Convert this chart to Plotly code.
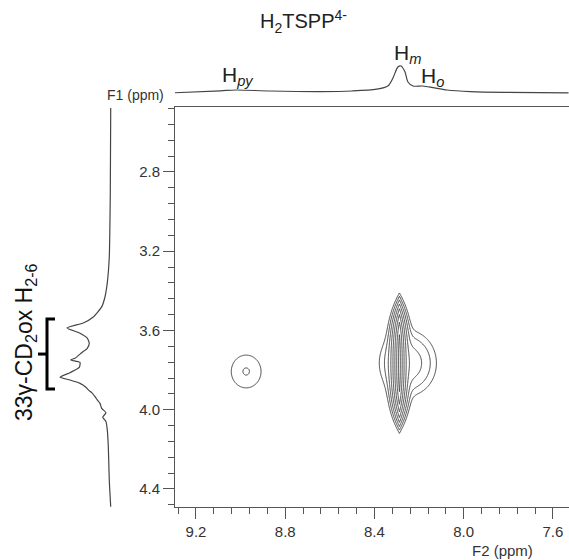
import numpy as np
import plotly.graph_objects as go

W, H = 569, 560

# ---- 1D projection along F2 (top trace) ----
TOP_F2 = [9.30, 9.09, 9.02, 8.87, 8.64, 8.50, 8.39, 8.34, 8.317, 8.295, 8.281,
          8.263, 8.25, 8.227, 8.183, 8.138, 8.075, 7.97, 7.82, 7.53]
TOP_INT = [0.18, 0.23, 0.25, 0.225, 0.21, 0.225, 0.27, 0.35, 0.55, 0.825, 0.85,
           0.70, 0.45, 0.35, 0.35, 0.31, 0.25, 0.21, 0.19, 0.18]

# ---- 1D projection along F1 (left trace) ----
LEFT_F1 = [2.477, 2.891, 3.229, 3.360, 3.431, 3.481, 3.532, 3.562, 3.587, 3.614,
           3.639, 3.665, 3.690, 3.712, 3.740, 3.749, 3.761, 3.786, 3.813, 3.836,
           3.850, 3.867, 3.885, 3.900, 3.915, 3.934, 3.950, 3.968, 3.993, 4.015,
           4.038, 4.060, 4.102, 4.187, 4.355, 4.490]
LEFT_INT = [0.116, 0.121, 0.134, 0.159, 0.188, 0.229, 0.334, 0.459, 0.662, 0.500,
            0.409, 0.384, 0.409, 0.479, 0.562, 0.616, 0.500, 0.509, 0.625, 0.750,
            0.625, 0.500, 0.430, 0.396, 0.350, 0.3125, 0.285, 0.250, 0.229, 0.175,
            0.216, 0.175, 0.159, 0.146, 0.134, 0.116]

# ---- 2D cross peaks: centre (F2, F1), widths, log-amplitude ----
PEAK_NAME = ["Hm", "Ho", "Hpy"]
PEAK_F2 = [8.288, 8.250, 8.975]
PEAK_F1 = [3.765, 3.765, 3.807]
PEAK_W2 = [0.008, 0.056, 0.046]
PEAK_W1 = [0.181, 0.072, 0.057]
PEAK_LOGAMP = [7.5, 2.6, 1.05]

# axis ranges (ppm)
F2_RANGE = [9.294, 7.528]
F1_RANGE = [4.491, 2.472]

# bracket over the CD signals in F1
BRACKET_F1 = [3.542, 3.719, 3.895]

# ---- build the 2D map ----
f2 = np.arange(7.95, 9.15, 0.002)
f1 = np.arange(3.30, 4.25, 0.004)
X, Y = np.meshgrid(f2, f1)
total = np.zeros_like(X)
# Hm: sharp in F2 (exponential), flat-topped in F1
total += np.exp(PEAK_LOGAMP[0] - np.abs(X - PEAK_F2[0]) / PEAK_W2[0]
                - np.abs((Y - PEAK_F1[0]) / PEAK_W1[0]) ** 3)
# Ho and Hpy: gaussian
for i in (1, 2):
    total += np.exp(PEAK_LOGAMP[i]
                    - 0.5 * ((X - PEAK_F2[i]) / PEAK_W2[i]) ** 2
                    - 0.5 * ((Y - PEAK_F1[i]) / PEAK_W1[i]) ** 2)
Z = np.round(np.log(total + 1e-3), 3)

line_col = "#444444"
axis_col = "#555555"
font_fam = "Arial, Liberation Sans, sans-serif"

fig = go.Figure()

fig.add_trace(go.Contour(
    x=f2, y=f1, z=Z, xaxis="x", yaxis="y",
    contours=dict(start=0, end=7, size=1, coloring="lines"),
    colorscale=[[0, line_col], [1, line_col]],
    line=dict(width=1), showscale=False, hoverinfo="skip",
))

fig.add_trace(go.Scatter(
    x=TOP_F2, y=TOP_INT, xaxis="x2", yaxis="y2", mode="lines",
    line=dict(color=line_col, width=1.2, shape="spline", smoothing=0.8),
    hoverinfo="skip", showlegend=False,
))

fig.add_trace(go.Scatter(
    x=LEFT_INT, y=LEFT_F1, xaxis="x3", yaxis="y3", mode="lines",
    line=dict(color=line_col, width=1.2, shape="spline", smoothing=0.5),
    hoverinfo="skip", showlegend=False,
))

main_xdom = [175 / W, 1.0]
main_ydom = [1 - 507 / H, 1 - 107 / H]

tickfont = dict(family=font_fam, size=15, color="#333333")

fig.update_layout(
    width=W, height=H,
    margin=dict(l=0, r=0, t=0, b=0),
    paper_bgcolor="white", plot_bgcolor="white",
    showlegend=False,
    xaxis=dict(
        domain=main_xdom, range=F2_RANGE, anchor="y",
        showgrid=False, zeroline=False,
        showline=True, linecolor=axis_col, linewidth=1, mirror=True,
        ticks="outside", ticklen=11, tickwidth=1, tickcolor=axis_col,
        tick0=7.6, dtick=0.4, tickformat=".1f", tickfont=tickfont,
        minor=dict(ticks="outside", ticklen=6, tickwidth=1, tickcolor=axis_col,
                   tick0=7.6, dtick=0.08, showgrid=False),
    ),
    yaxis=dict(
        domain=main_ydom, range=F1_RANGE, anchor="x",
        showgrid=False, zeroline=False,
        showline=True, linecolor=axis_col, linewidth=1,
        ticks="outside", ticklen=11, tickwidth=1, tickcolor=axis_col,
        tick0=2.8, dtick=0.4, tickformat=".1f", tickfont=tickfont,
        minor=dict(ticks="outside", ticklen=6, tickwidth=1, tickcolor=axis_col,
                   tick0=2.8, dtick=0.08, showgrid=False),
    ),
    xaxis2=dict(domain=main_xdom, range=F2_RANGE, anchor="y2", visible=False),
    yaxis2=dict(domain=[1 - 100 / H, 1 - 60 / H], range=[0, 1], anchor="x2",
                visible=False),
    xaxis3=dict(domain=[40 / W, 120 / W], range=[1, 0], anchor="y3",
                visible=False),
    yaxis3=dict(domain=main_ydom, range=F1_RANGE, anchor="x3", visible=False),
)

ann = [
    dict(text="H<sub>2</sub>TSPP<sup>4-</sup>", xref="paper", yref="paper",
         x=303 / W, y=1 - 22 / H, font=dict(size=20, color="#222222")),
    dict(text="H<sub><i>py</i></sub>", xref="x", yref="paper",
         x=9.012, y=1 - 76 / H, font=dict(size=21, color="#222222")),
    dict(text="H<sub><i>m</i></sub>", xref="x", yref="paper",
         x=8.254, y=1 - 54 / H, font=dict(size=21, color="#222222")),
    dict(text="H<sub><i>o</i></sub>", xref="x", yref="paper",
         x=8.138, y=1 - 77 / H, font=dict(size=21, color="#222222")),
    dict(text="F1 (ppm)", xref="paper", yref="paper", xanchor="right",
         x=166 / W, y=1 - 95 / H, font=dict(size=14, color="#333333")),
    dict(text="F2 (ppm)", xref="paper", yref="paper",
         x=503 / W, y=1 - 550 / H, font=dict(size=15, color="#333333")),
    dict(text="33γ-CD<sub>2</sub>ox H<sub>2-6</sub>", xref="paper", yref="paper",
         x=25 / W, y=1 - 342 / H, textangle=-90,
         font=dict(size=23, color="#111111")),
]
for a in ann:
    a.setdefault("showarrow", False)
    a.setdefault("xanchor", "center")
    a.setdefault("yanchor", "middle")
    a["font"]["family"] = font_fam
fig.update_layout(annotations=ann)

# bracket marking the CD signals
bx0, bx1, bxt = 47 / W, 55 / W, 38 / W
fig.add_shape(type="path", xref="paper", yref="y",
              path=f"M {bx1},{BRACKET_F1[0]} L {bx0},{BRACKET_F1[0]} "
                   f"L {bx0},{BRACKET_F1[2]} L {bx1},{BRACKET_F1[2]}",
              line=dict(color="black", width=3))
fig.add_shape(type="line", xref="paper", yref="y",
              x0=bxt, x1=bx0, y0=BRACKET_F1[1], y1=BRACKET_F1[1],
              line=dict(color="black", width=3))

fig.write_html("out.html")
